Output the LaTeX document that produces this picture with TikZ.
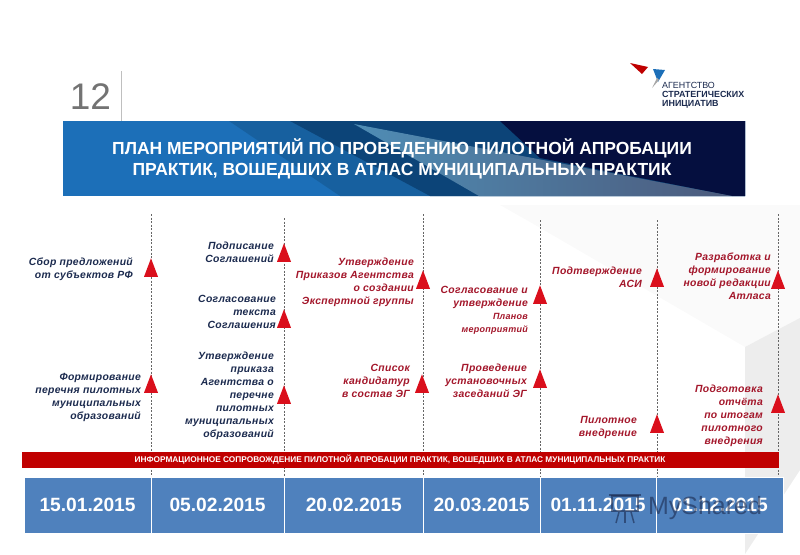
\documentclass[tikz,border=0pt]{standalone}
\usepackage{fontspec}
\setmainfont{Liberation Sans}
\usetikzlibrary{shapes.geometric}

\definecolor{navytext}{HTML}{1B2A4E}
\definecolor{redtext}{HTML}{A3162A}
\definecolor{markred}{HTML}{DA0F1C}
\definecolor{barred}{HTML}{C00000}
\definecolor{dateblue}{HTML}{4F81BD}
\definecolor{banblue}{HTML}{1C6FB8}
\definecolor{banmid}{HTML}{17609F}
\definecolor{bandark}{HTML}{0C4478}
\definecolor{banpale}{HTML}{4F8DB5}
\definecolor{bangrey}{HTML}{4C5A7C}
\definecolor{bannavy}{HTML}{050F3F}

\tikzset{
  redmark/.style={isosceles triangle, isosceles triangle apex angle=44, isosceles triangle stretches=true, shape border rotate=90,
    fill=markred, draw=none, minimum height=18.5pt, minimum width=14pt, inner sep=0pt, anchor=south},
  lbl/.style={anchor=east, align=right, inner sep=0pt, font=\fontsize{10.4}{13}\selectfont\bfseries\itshape\addfontfeature{LetterSpace=3}},
  lblnavy/.style={lbl, text=navytext},
  lblred/.style={lbl, text=redtext},
  timeline/.style={thin, draw=black!60, dash pattern=on 2pt off 1.5pt},
  datebox/.style={fill=dateblue, draw=white, line width=.6pt, text=white, inner sep=0pt, anchor=north west, minimum height=56pt,
    font=\fontsize{19.2}{20}\selectfont\bfseries},
}

\begin{document}
\begin{tikzpicture}[x=1pt,y=-1pt]
 \useasboundingbox (0,0) rectangle (800,554);

% faint background facets
 \fill[black!2] (530,222)--(500,205)--(800,205)--(800,320)--(745,347)--cycle;
 \fill[black!7] (745,347)--(800,318)--(800,470)--(745,554)--cycle;

% number of the slide
 \node[text=black!55, inner sep=0pt, font=\fontsize{37}{37}\selectfont] (slideno) at (90.5,97) {12};
 \coordinate (ruletop) at (121,71);
 \coordinate (rulebot) at (121,121);
 \draw[black!25] (ruletop)--(rulebot);

% logo
 \fill[red!75!black] (630,63)--(648,67)--(642,74)--cycle;
 \fill[banblue] (653,69)--(665,70)--(658,82)--cycle;
 \fill[black!35] (657,78)--(659,80)--(652,88)--cycle;
 \node[anchor=north west, align=left, inner sep=0pt, text=navytext, font=\fontsize{8.9}{9.2}\selectfont] (logotext) at (662,82)
   {АГЕНТСТВО\\\textbf{СТРАТЕГИЧЕСКИХ}\\\textbf{ИНИЦИАТИВ}};

% banner
 \fill[banblue] (63,121) rectangle (745,196);
 \fill[banmid] (229,121)--(745,121)--(745,196)--(340,196)--cycle;
 \fill[bandark] (290,121)--(745,121)--(745,196)--(430,196)--cycle;
 \fill[bannavy] (500,121)--(745,121)--(745,196)--(732,196)--(540,158)--cycle;
 \shade[left color=banpale, right color=bangrey] (354,124)--(732,196)--(479,196)--cycle;
 \node[text=white, align=center, inner sep=0pt, font=\fontsize{17.5}{21}\selectfont\bfseries] (bantitle) at (402,159)
   {ПЛАН МЕРОПРИЯТИЙ ПО ПРОВЕДЕНИЮ ПИЛОТНОЙ АПРОБАЦИИ\\ПРАКТИК, ВОШЕДШИХ В АТЛАС МУНИЦИПАЛЬНЫХ ПРАКТИК};

% ends of the time lines
 \coordinate (topa) at (151,214);
 \coordinate (topb) at (284,218);
 \coordinate (topc) at (423,214);
 \coordinate (topd) at (540,220);
 \coordinate (tope) at (657,220);
 \coordinate (topf) at (778,214);
 \coordinate (bota) at (151,477);
 \coordinate (botb) at (284,477);
 \coordinate (botc) at (423,477);
 \coordinate (botd) at (540,477);
 \coordinate (bote) at (657,477);
 \coordinate (botf) at (778,477);

 \draw[timeline] (topa)--(bota);
 \draw[timeline] (topb)--(botb);
 \draw[timeline] (topc)--(botc);
 \draw[timeline] (topd)--(botd);
 \draw[timeline] (tope)--(bote);
 \draw[timeline] (topf)--(botf);

% markers, placed by the middle of their base
 \node[redmark] (ma1) at (151,277) {};
 \node[redmark] (ma2) at (151,393) {};
 \node[redmark] (mb1) at (284,262) {};
 \node[redmark] (mb2) at (284,328) {};
 \node[redmark] (mb3) at (284,404) {};
 \node[redmark] (mc1) at (423,289) {};
 \node[redmark] (mc2) at (422,393) {};
 \node[redmark] (md1) at (540,304) {};
 \node[redmark] (md2) at (540,388) {};
 \node[redmark] (me1) at (657,287) {};
 \node[redmark] (me2) at (657,433) {};
 \node[redmark] (mf1) at (778,289) {};
 \node[redmark] (mf2) at (778,413) {};

% labels
 \node[lblnavy] (la1) at (133,269.5) {Сбор предложений\\от субъектов РФ};
 \node[lblnavy] (la2) at (141,397.5) {Формирование\\перечня пилотных\\муниципальных\\образований};
 \node[lblnavy] (lb1) at (274,252.5) {Подписание\\Соглашений};
 \node[lblnavy] (lb2) at (276,312) {Согласование\hspace{1pt}\\текста\hspace{3pt}\\Соглашения};
 \node[lblnavy] (lb3) at (274,396) {Утверждение\\приказа\\Агентства о\\перечне\\пилотных\\муниципальных\\образований};
 \node[lblred] (lc1) at (414,282) {Утверждение\\Приказов Агентства\hspace{4pt}\\о создании\\Экспертной группы};
 \node[lblred] (lc2) at (410,381) {Список\\кандидатур\\в состав ЭГ};
 \node[lblred] (ld1) at (528,310.5) {Согласование и\hspace{3pt}\\утверждение\hspace{3pt}\\{\fontsize{9}{13}\selectfont Планов\hspace{2pt}}\\{\fontsize{9}{13}\selectfont мероприятий}};
 \node[lblred] (ld2) at (527,381) {Проведение\\установочных\\заседаний ЭГ};
 \node[lblred] (le1) at (642,277.5) {Подтверждение\\АСИ};
 \node[lblred] (le2) at (637,427.5) {Пилотное\\внедрение};
 \node[lblred] (lf1) at (771,276.5) {Разработка и\\формирование\\новой редакции\\Атласа};
 \node[lblred] (lf2) at (763,415.5) {Подготовка\\отчёта\\по итогам\\пилотного\\внедрения};

% red bar
 \fill[barred] (22,452) rectangle (779,468);
 \node[text=white, inner sep=0pt, font=\fontsize{8.3}{8}\selectfont\bfseries] (barlabel) at (400,460)
   {ИНФОРМАЦИОННОЕ СОПРОВОЖДЕНИЕ ПИЛОТНОЙ АПРОБАЦИИ ПРАКТИК, ВОШЕДШИХ В АТЛАС МУНИЦИПАЛЬНЫХ ПРАКТИК};

% dates
 \node[datebox, minimum width=126.5pt] (da) at (24,477) {15.01.2015};
 \node[datebox, minimum width=133.5pt] (db) at (150.5,477) {05.02.2015};
 \node[datebox, minimum width=139pt] (dc) at (284,477) {20.02.2015};
 \node[datebox, minimum width=116.5pt] (dd) at (423,477) {20.03.2015};
 \node[datebox, minimum width=116.5pt] (de) at (539.5,477) {01.11.2015};
 \node[datebox, minimum width=127pt] (df) at (656,477) {01.12.2015};

% watermark
 \begin{scope}[opacity=.6]
  \draw[navytext, line width=1.5pt] (612,496) rectangle (638,511);
  \draw[navytext, line width=1.5pt] (609,495)--(641,495);
  \draw[navytext, line width=1.5pt] (625,512)--(625,523);
  \draw[navytext, line width=1.5pt] (619,512)--(616,523);
  \draw[navytext, line width=1.5pt] (631,512)--(634,523);
  \node[inner sep=0pt, text=navytext, font=\fontsize{25}{25}\selectfont] (wmark) at (705,508) {MyShared};
 \end{scope}
\end{tikzpicture}
\end{document}
